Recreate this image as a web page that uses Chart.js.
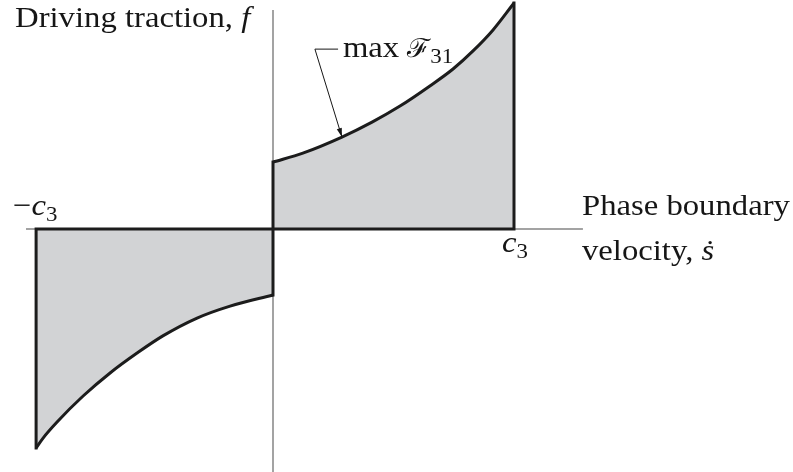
<!DOCTYPE html>
<html>
<head>
<meta charset="utf-8">
<script src="https://cdn.jsdelivr.net/npm/chart.js@4/dist/chart.umd.min.js"></script>
<style>
  html, body { margin: 0; padding: 0; background: #fff; }
  #wrap { width: 793px; height: 472px; position: relative; }
</style>
</head>
<body>
<div id="wrap"><canvas id="traction"></canvas></div>
<script>
// velocity s (in units of c3) and driving traction f along the two bounding curves
const sRight = [0, 0.124, 0.286, 0.411, 0.527, 0.651, 0.747, 0.830, 0.913, 1.0];
const fRight = [0.296, 0.336, 0.407, 0.473, 0.544, 0.633, 0.708, 0.788, 0.881, 1.0];
const sLeft = [-0.983, -0.954, -0.896, -0.788, -0.676, -0.564, -0.457, -0.315, -0.178, 0];
const fLeft = [-0.969, -0.925, -0.854, -0.739, -0.637, -0.549, -0.473, -0.394, -0.341, -0.292];

// extent of the drawn axes
const sAxis = [-1.025, 1.286];
const fAxis = [0.969, -1.08];

const pts = (xs, ys) => xs.map((x, i) => ({ x, y: ys[i] }));

const INK = '#1c1c1c';
const SHADE = '#d2d3d5';
const AXIS = '#858585';

const nL = sLeft.length - 1, nR = sRight.length - 1;

const curveStyle = {
  showLine: true, pointRadius: 0, borderColor: INK, borderWidth: 3,
  backgroundColor: SHADE, fill: 'origin', cubicInterpolationMode: 'monotone', order: 5
};
const edgeStyle = {
  showLine: true, pointRadius: 0, borderColor: INK, borderWidth: 3,
  fill: false, borderJoinStyle: 'miter', borderCapStyle: 'square', order: 1
};
const axisStyle = {
  showLine: true, pointRadius: 0, borderColor: AXIS, borderWidth: 1.5, fill: false, order: 10
};

// text labels, anchored in data units
const TEXT = '#161616';
const SERIF = '"Liberation Serif", "DejaVu Serif", serif';
const STRETCH = 1.09;

const labelsPlugin = {
  id: 'labels',
  afterDraw(chart) {
    const { ctx, scales: { x, y } } = chart;
    const X = v => x.getPixelForValue(v), Y = v => y.getPixelForValue(v);
    ctx.save();
    ctx.fillStyle = TEXT;
    ctx.strokeStyle = TEXT;
    ctx.textBaseline = 'alphabetic';

    // run of pieces: [text, font, dy], widened a little for a rounder serif look
    const run = (px, py, parts) => {
      ctx.save();
      ctx.translate(px, py);
      ctx.scale(STRETCH, 1);
      let cx = 0;
      parts.forEach(([t, font, dy]) => {
        ctx.font = font;
        ctx.fillText(t, cx, dy || 0);
        cx += ctx.measureText(t).width;
      });
      ctx.restore();
    };
    const up = '30px ' + SERIF, it = 'italic 30px ' + SERIF, sub = '21px ' + SERIF;
    const cal = '26px ' + SERIF;

    run(X(-1.0705), Y(0.894), [['Driving traction, ', up], ['f', it]]);
    run(X(1.282), Y(0.062), [['Phase boundary', up]]);
    run(X(1.282), Y(-0.137), [['velocity, ', up], ['\u1E61', it]]);
    run(X(-1.079), Y(0.062), [['\u2212', up], ['c', it], ['3', sub, 6]]);
    run(X(0.950), Y(-0.102), [['c', it], ['3', sub, 6]]);
    run(X(0.290), Y(0.761), [['max ', up], ['\u2131', cal], ['31', sub, 6]]);

    // leader from the label to the upper curve
    const tip = { x: X(sRight[2]), y: Y(fRight[2]) };
    const elbow = { x: X(0.174), y: Y(0.796) };
    ctx.lineWidth = 1;
    ctx.beginPath();
    ctx.moveTo(X(0.270), elbow.y);
    ctx.lineTo(elbow.x, elbow.y);
    ctx.lineTo(tip.x, tip.y);
    ctx.stroke();
    const ang = Math.atan2(tip.y - elbow.y, tip.x - elbow.x);
    const len = 9, half = 2.6;
    ctx.beginPath();
    ctx.moveTo(tip.x, tip.y);
    ctx.lineTo(tip.x - len * Math.cos(ang) + half * Math.sin(ang), tip.y - len * Math.sin(ang) - half * Math.cos(ang));
    ctx.lineTo(tip.x - len * Math.cos(ang) - half * Math.sin(ang), tip.y - len * Math.sin(ang) + half * Math.cos(ang));
    ctx.closePath();
    ctx.fill();
    ctx.restore();
  }
};

new Chart(document.getElementById('traction'), {
  type: 'scatter',
  data: {
    datasets: [
      { ...axisStyle, data: [{ x: sAxis[0], y: 0 }, { x: sAxis[1], y: 0 }] },
      { ...axisStyle, data: [{ x: 0, y: fAxis[0] }, { x: 0, y: fAxis[1] }] },
      { ...curveStyle, data: pts(sRight, fRight) },
      { ...curveStyle, data: pts(sLeft, fLeft) },
      // left edge, zero line and right edge of the shaded band
      { ...edgeStyle, data: [
        { x: sLeft[0], y: fLeft[0] }, { x: sLeft[0], y: 0 },
        { x: sRight[nR], y: 0 }, { x: sRight[nR], y: fRight[nR] }
      ] },
      // jump at s = 0
      { ...edgeStyle, data: [{ x: 0, y: fLeft[nL] }, { x: 0, y: fRight[0] }] }
    ]
  },
  options: {
    responsive: true,
    maintainAspectRatio: false,
    animation: false,
    layout: { padding: 0 },
    plugins: { legend: { display: false }, tooltip: { enabled: false } },
    scales: {
      x: { type: 'linear', min: -1.1328, max: 2.1577, display: false },
      y: { type: 'linear', min: -1.0752, max: 1.0133, display: false }
    }
  },
  plugins: [labelsPlugin]
});
</script>
</body>
</html>
